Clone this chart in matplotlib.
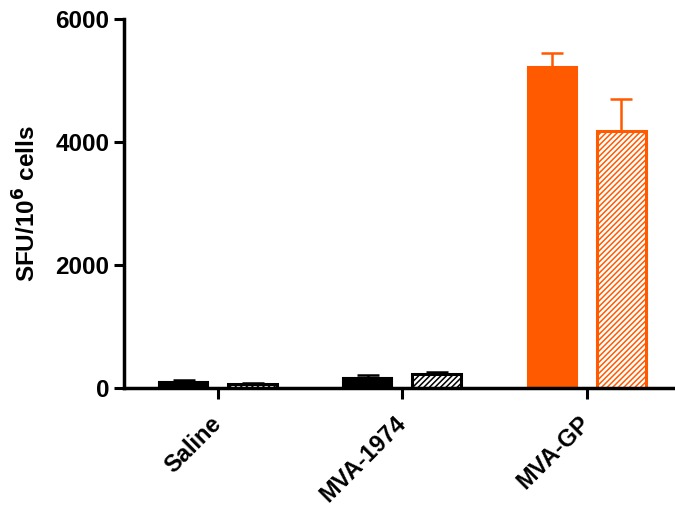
import numpy as np
import matplotlib
matplotlib.use("Agg")
import matplotlib.pyplot as plt
import matplotlib.transforms as mtransforms

# ─── DATA ──────────────────────────────────────────────────────────────────────
groups      = ["Saline", "MVA-1974", "MVA-GP"]
solid_mean  = [100, 160, 5220]
solid_err   = [30, 50, 230]
hatch_mean  = [70, 230, 4170]
hatch_err   = [15, 35, 530]
bar_colors  = ["black", "black", "#FF5A00"]
# ───────────────────────────────────────────────────────────────────────────────

plt.rcParams["font.family"] = ["Liberation Sans", "DejaVu Sans"]
plt.rcParams["font.weight"] = "bold"
plt.rcParams["mathtext.default"] = "bf"
plt.rcParams["hatch.linewidth"] = 1.1

fig = plt.figure(figsize=(6.75, 5.08), dpi=100)
ax = fig.add_axes([0.184, 0.236, 0.816, 0.727])

x = np.arange(len(groups))
width = 0.266
offset = 0.187

for i in range(len(groups)):
    c = bar_colors[i]
    ax.bar(x[i] - offset, solid_mean[i], width, color=c, edgecolor=c,
           linewidth=1.5, zorder=2)
    ax.errorbar(x[i] - offset, solid_mean[i], yerr=[[0], [solid_err[i]]],
                fmt="none", ecolor=c, elinewidth=1.8, capsize=8, capthick=1.8,
                zorder=1)
    ax.bar(x[i] + offset, hatch_mean[i], width, color="white", edgecolor=c,
           hatch="//////", linewidth=2.2, zorder=2)
    ax.errorbar(x[i] + offset, hatch_mean[i], yerr=[[0], [hatch_err[i]]],
                fmt="none", ecolor=c, elinewidth=1.8, capsize=8, capthick=1.8,
                zorder=1)

ax.set_xlim(-0.51, 2.48)
ax.set_ylim(0, 6000)
ax.set_yticks([0, 2000, 4000, 6000])
ax.set_xticks(x)
ax.set_xticklabels(groups, rotation=45, ha="right", rotation_mode="anchor",
                   fontsize=17, fontweight="bold")
ax.tick_params(axis="y", labelsize=17.5, width=2.2, length=7, direction="out")
ax.tick_params(axis="x", width=2.2, length=8, direction="out", pad=9)
for lbl in ax.get_yticklabels():
    lbl.set_fontweight("bold")

# nudge the slanted category labels a little to the left
shift = mtransforms.ScaledTranslation(-6 / 72, 0, fig.dpi_scale_trans)
for lbl in ax.get_xticklabels():
    lbl.set_transform(lbl.get_transform() + shift)

ax.set_ylabel("SFU/10$^6$ cells", fontsize=17.5, fontweight="bold",
              labelpad=11)

for side in ["top", "right"]:
    ax.spines[side].set_visible(False)
for side in ["left", "bottom"]:
    ax.spines[side].set_linewidth(2.5)

fig.savefig("out.png", dpi=100)
